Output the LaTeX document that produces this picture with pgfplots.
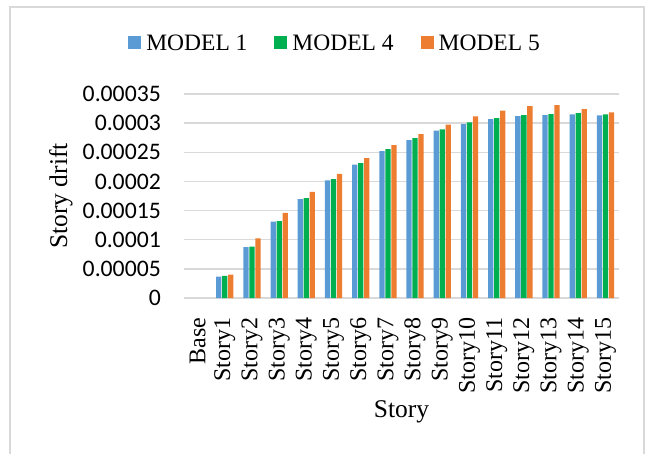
\documentclass[border=0pt]{standalone}
\usepackage{pgfplots}
\pgfplotsset{compat=1.18}
\usepackage{pgfplotstable}
\usepackage{fontspec}
\setmainfont{Liberation Serif}
\newfontfamily\carlito{Carlito}
\definecolor{mblue}{HTML}{5B9BD5}
\definecolor{mgreen}{HTML}{00B050}
\definecolor{morange}{HTML}{ED7D31}
\definecolor{gridgray}{HTML}{D9D9D9}
\definecolor{framegray}{HTML}{D9D9D9}

\pgfplotstableread{
x m1 m4 m5
1 0.0000367 0.0000378 0.0000401
2 0.0000871 0.0000882 0.0001025
3 0.0001312 0.0001317 0.0001460
4 0.0001695 0.0001712 0.0001821
5 0.0002016 0.0002039 0.0002130
6 0.0002290 0.0002314 0.0002400
7 0.0002520 0.0002554 0.0002623
8 0.0002709 0.0002743 0.0002812
9 0.0002870 0.0002892 0.0002973
10 0.0002984 0.0003013 0.0003116
11 0.0003070 0.0003087 0.0003213
12 0.0003121 0.0003139 0.0003293
13 0.0003139 0.0003156 0.0003310
14 0.0003150 0.0003173 0.0003242
15 0.0003133 0.0003150 0.0003184
}\drift

\begin{document}
\begin{tikzpicture}[x=1pt,y=1pt]
\useasboundingbox (0,0) rectangle (652,453);
\draw[framegray, line width=1.3pt] (10,-5) -- (10,446) -- (644,446) -- (644,-5);
\begin{axis}[
  at={(184pt,155pt)}, anchor=south west,
  scale only axis, width=435pt, height=204pt,
  ybar=0.7pt, bar width=5.3pt,
  xmin=-0.5, xmax=15.5, ymin=0, ymax=0.00035,
  xtick={0,...,15},
  xticklabels={Base,Story1,Story2,Story3,Story4,Story5,Story6,Story7,Story8,Story9,Story10,Story11,Story12,Story13,Story14,Story15},
  xticklabel style={rotate=90, anchor=east, inner sep=0pt, font=\fontsize{24}{27}\selectfont},
  xticklabel shift=15pt,
  ytick={0,0.00005,0.0001,0.00015,0.0002,0.00025,0.0003,0.00035},
  yticklabels={0,0.00005,0.0001,0.00015,0.0002,0.00025,0.0003,0.00035},
  scaled y ticks=false,
  yticklabel style={anchor=east, inner sep=0pt, font=\carlito\fontsize{23.7}{26}\selectfont},
  yticklabel shift=23pt,
  ymajorgrids, major grid style={gridgray, line width=1.3pt},
  axis line style={draw=none}, tick style={draw=none},
  ylabel={Story drift},
  ylabel style={at={(axis description cs:-0.2828,0.5)}, anchor=center, font=\fontsize{25.5}{28}\selectfont},
  xlabel={Story},
  xlabel style={at={(axis description cs:0.5,-0.56)}, anchor=center, font=\fontsize{25.5}{28}\selectfont},
  legend columns=3,
  legend style={at={(axis description cs:0.345,1.25)}, anchor=center, draw=none, fill=none,
    font=\fontsize{23.5}{26}\selectfont, inner sep=0pt,
    nodes={inner sep=0pt},
    /tikz/every odd column/.append style={column sep=5pt},
    /tikz/every even column/.append style={column sep=27pt}},
  legend image code/.code={\fill[#1] (0pt,-6.5pt) rectangle (13pt,6.5pt);},
]
\addplot[fill=mblue, draw=none] table[x=x,y=m1] {\drift};
\addplot[fill=mgreen, draw=none] table[x=x,y=m4] {\drift};
\addplot[fill=morange, draw=none] table[x=x,y=m5] {\drift};
\legend{MODEL 1, MODEL 4, MODEL 5}
\end{axis}
\end{tikzpicture}
\end{document}
